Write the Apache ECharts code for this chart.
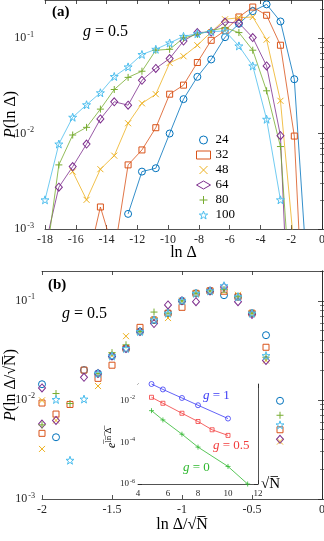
<!DOCTYPE html>
<html>
<head>
<meta charset="utf-8">
<script src="https://cdn.jsdelivr.net/npm/echarts@6/dist/echarts.min.js"></script>
<style>
html, body { margin: 0; padding: 0; background: #fff; }
#chart { width: 324px; height: 541px; }
</style>
</head>
<body>
<div id="chart"></div>
<script>
var sizes = ['24', '32', '48', '64', '80', '100'];

// panel (a): P(ln Delta), common bin centres
var lnDelta = [-18, -17.1, -16.2, -15.3, -14.4, -13.5, -12.6, -11.7, -10.8, -9.9, -9, -8.1, -7.2, -6.3, -5.4, -4.5, -3.6, -2.7, -1.8, -0.9];
var pA24 = [null, null, null, null, null, null, 0.00144, 0.00399, 0.00433, 0.0100, 0.0229, 0.0392, 0.0596, 0.102, 0.141, 0.191, 0.225, 0.149, 0.037, 0.00023];
var pA32 = [null, null, null, 0.0004, 0.0017, 0.00056, 0.00469, 0.00673, 0.0115, 0.0258, 0.0321, 0.0554, 0.0946, 0.12, 0.166, 0.211, 0.173, 0.084, 0.0094, 0.00001];
var pA48 = [null, null, 0.00399, 0.00202, 0.00423, 0.00586, 0.0128, 0.0207, 0.0258, 0.0548, 0.0644, 0.084, 0.1155, 0.157, 0.163, 0.166, 0.096, 0.022, 0.0006, null];
var pA64 = [0.00065, 0.00274, 0.0045, 0.00776, 0.0142, 0.0215, 0.0198, 0.0361, 0.048, 0.061, 0.093, 0.114, 0.1155, 0.147, 0.1435, 0.101, 0.051, 0.0095, 0.000004, null];
var pA80 = [0.0004, 0.00469, 0.00964, 0.0116, 0.018, 0.0289, 0.0387, 0.0449, 0.0745, 0.0762, 0.1, 0.109, 0.12, 0.128, 0.114, 0.0745, 0.028, 0.0073, 0.000057, null];
var pA100 = [0.00202, 0.00776, 0.0148, 0.02, 0.0267, 0.0395, 0.0498, 0.0672, 0.0762, 0.0887, 0.104, 0.111, 0.117, 0.118, 0.0826, 0.051, 0.0141, 0.00202, null, null];

// panel (b): P(ln Delta / sqrt N)
var lnDeltaScaled = [-2, -1.9, -1.8, -1.7, -1.6, -1.5, -1.4, -1.3, -1.2, -1.1, -1, -0.9, -0.8, -0.7, -0.6, -0.5, -0.4, -0.3];
var pB24 = [0.0144, 0.0042, null, 0.020, 0.0185, 0.0277, 0.033, 0.049, 0.064, 0.075, 0.1, 0.119, 0.126, 0.114, 0.11, 0.075, 0.045, 0.0098];
var pB32 = [0.0093, 0.0072, 0.0090, 0.020, 0.0165, 0.0224, 0.033, 0.054, 0.064, 0.075, 0.086, 0.119, 0.126, 0.125, 0.11, 0.075, 0.034, 0.0050];
var pB48 = [0.0099, 0.0062, null, null, 0.0138, 0.028, 0.044, 0.049, 0.064, 0.067, 0.1, 0.119, 0.126, 0.125, 0.115, 0.075, 0.025, 0.0038];
var pB64 = [0.0132, 0.0062, null, 0.0169, 0.0185, 0.0277, 0.033, 0.049, 0.059, 0.091, 0.1, 0.098, 0.126, 0.138, 0.098, 0.073, 0.025, 0.0040];
var pB80 = [0.0056, 0.0116, 0.0092, null, 0.0185, 0.030, 0.036, 0.049, 0.077, 0.075, 0.1, 0.119, 0.126, 0.13, 0.11, 0.075, 0.027, 0.0070];
var pB100 = [null, 0.0101, 0.00246, 0.0102, 0.0185, 0.0277, 0.033, 0.049, 0.064, 0.075, 0.1, 0.119, 0.126, 0.142, 0.11, 0.075, 0.028, 0.0056];
// second reading stacked on the left edge (ln Delta / sqrt N = -2)
var pBEdge = [null, 0.0046, 0.0032, 0.0057, null, null];

// inset: exp(mean ln Delta) vs sqrt N
var sqrtN_g1 = [4.9, 5.66, 6.93, 8, 10];
var expLn_g1 = [0.060, 0.033, 0.0129, 0.0058, 0.00134];
var sqrtN_g05 = [4.9, 5.66, 6.93, 8, 8.94, 10];
var expLn_g05 = [0.0139, 0.0072, 0.0024, 0.00097, 0.00039, 0.00021];
var sqrtN_g0 = [4.9, 5.66, 6.93, 8, 10, 11.31];
var expLn_g0 = [0.0032, 0.00115, 0.00024, 0.000058, 0.0000069, 0.000001];

var colors = ['#0072BD', '#D95319', '#EDB120', '#7E2F8E', '#77AC30', '#4DBEEE'];
var crossPath = 'path://M0,0L10,10M10,0L0,10';
var plusPath = 'path://M5,0L5,10M0,5L10,5';
var starPath = 'path://M5,0L6.18,3.45L9.76,3.45L6.91,5.55L7.94,9.05L5,6.9L2.06,9.05L3.09,5.55L0.24,3.45L3.82,3.45Z';
var symbols = ['circle', 'rect', crossPath, 'diamond', plusPath, starPath];
var symbolSizes = [7, 6, 6, [7, 8], 7, 8];

var serif = '"Liberation Serif", "DejaVu Serif", serif';
var ink = '#262626';
var none = 'rgba(0,0,0,0)';

function zip(xs, ys) {
    var out = [];
    for (var i = 0; i < xs.length; i++) {
        if (ys[i] != null) out.push([xs[i], ys[i]]);
    }
    return out;
}

function powLabel(v) {
    var e = Math.round(Math.log(v) / Math.LN10);
    return '{b|10}{s|' + e + '}';
}

function decadeTicks(lo, hi) {
    var t = [];
    for (var d = lo; d <= hi; d *= 10) {
        for (var m = 2; m <= 9; m++) t.push(m * d);
    }
    return t;
}

function xAxes(grid, min, max, interval, name, fontSize) {
    var base = {
        gridIndex: grid, type: 'value', min: min, max: max, interval: interval,
        axisLine: { show: true, lineStyle: { color: ink, width: 0.8 } },
        axisTick: { inside: true, length: 4, lineStyle: { color: ink, width: 0.8 } },
        splitLine: { show: false }
    };
    var bottom = Object.assign({}, base, {
        position: 'bottom',
        axisLabel: { fontFamily: serif, fontSize: fontSize, color: ink, margin: 5 },
        name: name.text, nameLocation: name.loc, nameGap: name.gap, nameMoveOverlap: false,
        nameTextStyle: { fontFamily: serif, fontSize: name.size, color: '#000', rich: name.rich }
    });
    var top = Object.assign({}, base, { position: 'top', axisLabel: { show: false } });
    return [bottom, top];
}

function yAxes(grid, min, max, majors, minors, labels, fontSize, margin, name) {
    var base = {
        gridIndex: grid, type: 'log', logBase: 10, min: min, max: max,
        axisLine: { show: true, lineStyle: { color: ink, width: 0.8 } },
        splitLine: { show: false }
    };
    var left = Object.assign({}, base, {
        position: 'left',
        axisTick: { inside: true, length: 4, customValues: majors, lineStyle: { color: ink, width: 0.8 } },
        axisLabel: {
            customValues: labels, formatter: powLabel, color: ink, margin: margin,
            rich: {
                b: { fontFamily: serif, fontSize: fontSize, color: ink },
                s: { fontFamily: serif, fontSize: fontSize * 0.68, color: ink, padding: [0, 0, fontSize * 0.6, 1] }
            }
        }
    });
    if (name) {
        left.name = name.text;
        left.nameLocation = 'middle';
        left.nameGap = name.gap;
        left.nameMoveOverlap = false;
        left.nameTextStyle = { fontFamily: serif, fontSize: name.size, color: '#000', rich: name.rich };
    }
    var leftMinor = Object.assign({}, base, {
        position: 'left', axisLine: { show: false },
        axisTick: { inside: true, length: 2, customValues: minors, lineStyle: { color: ink, width: 0.6 } },
        axisLabel: { show: false }
    });
    var right = Object.assign({}, base, {
        position: 'right',
        axisTick: { inside: true, length: 4, customValues: majors, lineStyle: { color: ink, width: 0.8 } },
        axisLabel: { show: false }
    });
    var rightMinor = Object.assign({}, base, {
        position: 'right', axisLine: { show: false },
        axisTick: { inside: true, length: 2, customValues: minors, lineStyle: { color: ink, width: 0.6 } },
        axisLabel: { show: false }
    });
    return [left, leftMinor, right, rightMinor];
}

var italicRich = function (size) {
    return { i: { fontFamily: serif, fontStyle: 'italic', fontSize: size, color: '#000' } };
};

var xAxisList = []
    .concat(xAxes(0, -18, 0, 2, { text: 'ln Δ', loc: 'middle', gap: 16, size: 16 }, 12))
    .concat(xAxes(1, -2, 0, 0.5, { text: 'ln Δ/√N̅', loc: 'middle', gap: 18, size: 16 }, 12))
    .concat(xAxes(2, 4, 12, 2, { text: '√N̅', loc: 'end', gap: 3, size: 15 }, 9));

var yAxisList = []
    .concat(yAxes(0, 0.001, 0.25, [0.001, 0.01, 0.1], decadeTicks(0.001, 0.1).filter(function (v) { return v < 0.25; }),
        [0.001, 0.01, 0.1], 12, 11, { text: '{i|P}(ln Δ)', gap: 26, size: 16, rich: italicRich(16) }))
    .concat(yAxes(1, 0.001, 0.2, [0.001, 0.01, 0.1], decadeTicks(0.001, 0.1).filter(function (v) { return v <= 0.2; }),
        [0.001, 0.01, 0.1], 12, 7, { text: '{i|P}(ln Δ/√N̅)', gap: 23, size: 16, rich: italicRich(16) }))
    .concat(yAxes(2, 0.000001, 0.06, [0.000001, 0.00001, 0.0001, 0.001, 0.01], [],
        [0.000001, 0.0001, 0.01], 9, 3, null));

var pAll = [pA24, pA32, pA48, pA64, pA80, pA100];
var pBll = [pB24, pB32, pB48, pB64, pB80, pB100];
var series = [];

sizes.forEach(function (n, i) {
    series.push({
        name: n, type: 'line', xAxisIndex: 0, yAxisIndex: 0,
        data: zip(lnDelta, pAll[i]),
        symbol: symbols[i], symbolSize: symbolSizes[i], showAllSymbol: true,
        itemStyle: { color: none, borderColor: colors[i], borderWidth: 1 },
        lineStyle: { color: colors[i], width: 0.8 },
        animation: false
    });
});

sizes.forEach(function (n, i) {
    var pts = zip(lnDeltaScaled, pBll[i]);
    if (pBEdge[i] != null) pts.push([lnDeltaScaled[0], pBEdge[i]]);
    series.push({
        name: 'b' + n, type: 'scatter', xAxisIndex: 2, yAxisIndex: 4,
        data: pts,
        symbol: symbols[i], symbolSize: symbolSizes[i],
        itemStyle: { color: none, borderColor: colors[i], borderWidth: 1, opacity: 1 },
        animation: false
    });
});

var insetSets = [
    { x: sqrtN_g1, y: expLn_g1, c: '#3b3bf5', s: 'circle', size: 5 },
    { x: sqrtN_g05, y: expLn_g05, c: '#f23c3c', s: 'rect', size: 4 },
    { x: sqrtN_g0, y: expLn_g0, c: '#2fb82f', s: plusPath, size: 5 }
];
insetSets.forEach(function (d, i) {
    series.push({
        name: 'inset' + i, type: 'line', xAxisIndex: 4, yAxisIndex: 8,
        data: zip(d.x, d.y), clip: false,
        symbol: d.s, symbolSize: d.size, showAllSymbol: true,
        itemStyle: { color: none, borderColor: d.c, borderWidth: 0.8 },
        lineStyle: { color: d.c, width: 0.8 },
        animation: false, z: 5
    });
});

var legendIcons = ['circle', 'rect', crossPath, 'diamond', plusPath, starPath];

var option = {
    backgroundColor: '#fff',
    animation: false,
    textStyle: { fontFamily: serif },
    grid: [
        { left: 45, top: 0, width: 277, height: 229, show: false, outerBoundsMode: 'none', containLabel: false },
        { left: 42, top: 271, width: 280, height: 228, show: false, outerBoundsMode: 'none', containLabel: false },
        { left: 138, top: 384, width: 120, height: 100, show: true, backgroundColor: '#fff', borderWidth: 0, z: 3, outerBoundsMode: 'none', containLabel: false }
    ],
    xAxis: xAxisList,
    yAxis: yAxisList,
    legend: {
        orient: 'vertical', left: 196, top: 133.5, padding: 0,
        itemWidth: 14, itemHeight: 8, itemGap: 2,
        textStyle: { fontFamily: serif, fontSize: 13, lineHeight: 13, color: '#000' },
        data: sizes.map(function (n, i) {
            return { name: n, icon: legendIcons[i], itemStyle: { color: none, borderColor: colors[i], borderWidth: 1 } };
        })
    },
    graphic: [
        { type: 'text', left: 52, top: 5, style: { text: '(a)', font: 'bold 15px ' + serif, fill: '#000' } },
        { type: 'text', left: 83, top: 24, style: { text: '{i|g} = 0.5', font: '16px ' + serif, fill: '#000', rich: italicRich(16) } },
        { type: 'text', left: 48, top: 278, style: { text: '(b)', font: 'bold 15px ' + serif, fill: '#000' } },
        { type: 'text', left: 62, top: 306, style: { text: '{i|g} = 0.5', font: '16px ' + serif, fill: '#000', rich: italicRich(16) } },
        { type: 'text', left: 203, top: 389, z: 10, style: { text: '{i|g} = 1', font: '13px ' + serif, fill: '#3b3bf5', rich: { i: { fontStyle: 'italic', fontFamily: serif, fontSize: 13, color: '#3b3bf5' } } } },
        { type: 'text', left: 213, top: 439, z: 10, style: { text: '{i|g} = 0.5', font: '13px ' + serif, fill: '#f23c3c', rich: { i: { fontStyle: 'italic', fontFamily: serif, fontSize: 13, color: '#f23c3c' } } } },
        { type: 'text', left: 183, top: 461, z: 10, style: { text: '{i|g} = 0', font: '13px ' + serif, fill: '#2fb82f', rich: { i: { fontStyle: 'italic', fontFamily: serif, fontSize: 13, color: '#2fb82f' } } } },
        { type: 'text', x: 104, y: 448, rotation: Math.PI / 2, z: 10,
          style: { text: '{e|e}{s|l̅n̅ ̅Δ̅}', rich: {
              e: { fontFamily: serif, fontStyle: 'italic', fontSize: 12, color: '#000' },
              s: { fontFamily: serif, fontSize: 9, color: '#000', padding: [0, 0, 7, 0] } } } }
    ],
    series: series
};

var chart = echarts.init(document.getElementById('chart'));
chart.setOption(option);
</script>
</body>
</html>
